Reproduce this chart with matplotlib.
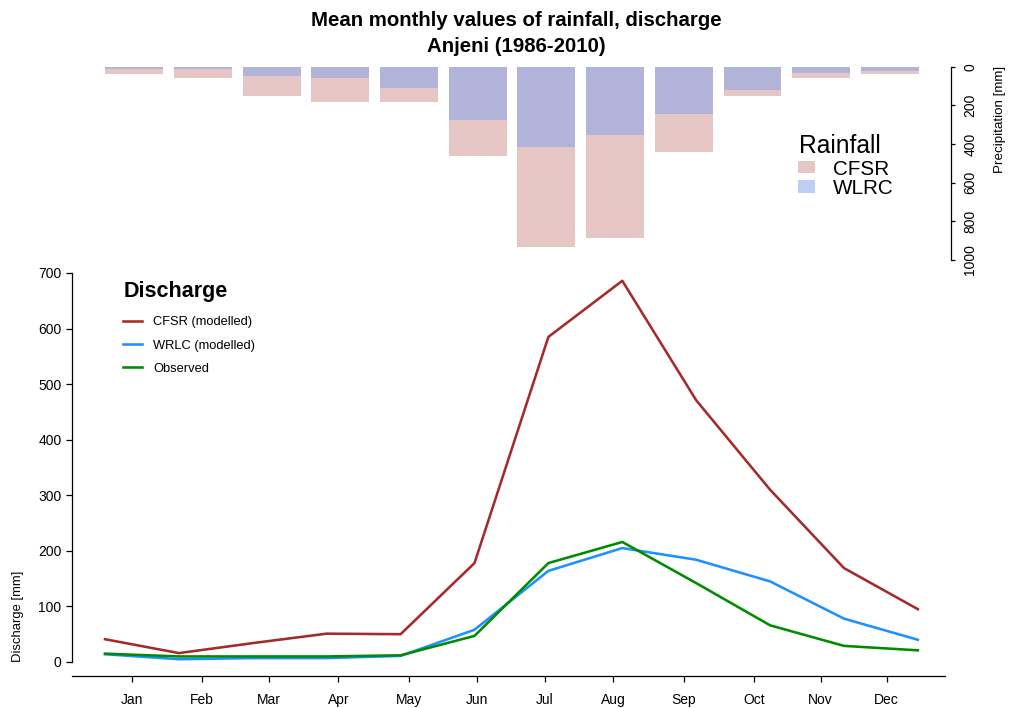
"""
Mean monthly rainfall (bars, top) and discharge (lines, bottom) for Anjeni
"""

import matplotlib
matplotlib.use("Agg")
import matplotlib.pyplot as plt
from matplotlib.lines import Line2D
from matplotlib.patches import Rectangle

plt.rcParams['font.family'] = ['Liberation Sans', 'DejaVu Sans']

# Data

months = ['Jan', 'Feb', 'Mar', 'Apr', 'May', 'Jun',
          'Jul', 'Aug', 'Sep', 'Oct', 'Nov', 'Dec']

# rainfall [mm]
rain_cfsr = [38, 57, 153, 184, 181, 464, 933, 885, 440, 152, 57, 38]
rain_wlrc = [12, 13, 48, 57, 110, 274, 414, 353, 246, 121, 34, 21]

# discharge [mm]
q_cfsr = [41, 16, 34, 51, 50, 178, 585, 686, 471, 310, 169, 95]
q_wlrc = [14, 5, 7, 7, 11, 58, 164, 205, 184, 145, 78, 40]
q_obs = [15, 10, 10, 10, 12, 47, 178, 216, 142, 66, 29, 21]

# colours
c_cfsr = '#A52A2A'
c_wlrc = '#1E90FF'
c_obs = '#008B00'
bar_cfsr = '#E6C5C5'
bar_wlrc = (130/255, 166/255, 234/255)

# layout helpers (pixels -> figure fraction)
W, H = 1009, 708

def fx(px):
    return px / W

def fy(py):
    return 1 - py / H

def box(l, t, r, b):
    return [fx(l), fy(b), (r - l) / W, (b - t) / H]

fig = plt.figure(figsize=(W / 100, H / 100), dpi=100)

# ---- top: rainfall bars (hanging down) ----
ax_r = fig.add_axes(box(72, 66.7, 950.7, 260))
xb = range(len(months))
ax_r.bar(xb, rain_cfsr, width=0.844, color=bar_cfsr, edgecolor='none')
ax_r.bar(xb, rain_wlrc, width=0.844, color=bar_wlrc, alpha=0.52, edgecolor='none')
ax_r.set_xlim(-0.905, 11.885)
ax_r.set_ylim(1000, 0)
for s in ['top', 'left', 'bottom']:
    ax_r.spines[s].set_visible(False)
ax_r.spines['right'].set_bounds(0, 1000)
ax_r.spines['right'].set_linewidth(0.9)
ax_r.set_xticks([])
ax_r.yaxis.tick_right()
ax_r.set_yticks(range(0, 1001, 200))
ax_r.tick_params(axis='y', direction='out', length=3.2, width=0.9,
                 labelsize=10, pad=6, labelrotation=90)
for lab in ax_r.get_yticklabels():
    lab.set_verticalalignment('center')
ax_r.patch.set_alpha(0)
fig.text(fx(1000), fy(119), 'Precipitation [mm]', rotation=90,
         ha='center', va='center', fontsize=9.6)

# rainfall legend
fig.text(fx(799), fy(153), 'Rainfall', fontsize=17.7, ha='left', va='baseline')
fig.add_artist(Rectangle((fx(798), fy(173.3)), 17 / W, 12.6 / H,
                         transform=fig.transFigure, color=bar_cfsr, lw=0))
fig.add_artist(Rectangle((fx(798), fy(192.7)), 17 / W, 12.7 / H,
                         transform=fig.transFigure, color=bar_wlrc, alpha=0.52, lw=0))
fig.text(fx(833), fy(175), 'CFSR', fontsize=14.9, ha='left', va='baseline')
fig.text(fx(833), fy(194), 'WLRC', fontsize=14.9, ha='left', va='baseline')

# ---- bottom: discharge lines ----
ax = fig.add_axes(box(72, 273, 945, 676))
x = range(len(months))
ax.plot(x, q_cfsr, color=c_cfsr, lw=1.85)
ax.plot(x, q_wlrc, color=c_wlrc, lw=1.85)
ax.plot(x, q_obs, color=c_obs, lw=1.85)
ax.set_xlim(-0.4466, 11.367)
ax.set_ylim(-25.2, 700)
ax.spines['top'].set_visible(False)
ax.spines['right'].set_visible(False)
ax.spines['left'].set_bounds(0, 700)
ax.spines['left'].set_linewidth(0.9)
ax.spines['bottom'].set_linewidth(0.9)
ax.set_yticks(range(0, 701, 100))
tick_px = [132.3, 201.7, 269.3, 338.3, 409.3, 476.7,
           545, 613.3, 684, 754, 820.7, 886.7]
ax.set_xticks([(p - 105) / 73.9 for p in tick_px])
ax.set_xticklabels(months)
ax.tick_params(axis='y', direction='out', length=4, width=0.9, labelsize=10, pad=3.5)
ax.tick_params(axis='x', direction='out', length=4.5, width=0.9, labelsize=10, pad=7.5)
ax.patch.set_alpha(0)
fig.text(fx(18), fy(662), 'Discharge [mm]', rotation=90,
         ha='center', va='bottom', fontsize=9.4)

# discharge legend
fig.text(fx(124), fy(297.5), 'Discharge', fontsize=15.5, fontweight='bold',
         ha='left', va='baseline')
leg = [(c_cfsr, 'CFSR (modelled)', 321), (c_wlrc, 'WRLC (modelled)', 344),
       (c_obs, 'Observed', 367)]
for col, lab, yy in leg:
    fig.add_artist(Line2D([fx(122.7), fx(141.7)], [fy(yy), fy(yy)],
                          transform=fig.transFigure, color=col, lw=1.85))
    fig.text(fx(153), fy(yy + 4.5), lab, fontsize=9.3, ha='left', va='baseline')

# title
fig.text(fx(516), fy(26.5), 'Mean monthly values of rainfall, discharge',
         fontsize=14.7, fontweight='bold', ha='center', va='baseline')
fig.text(fx(516), fy(51.5), 'Anjeni (1986-2010)',
         fontsize=14.7, fontweight='bold', ha='center', va='baseline')

fig.savefig('out.png', dpi=100)
